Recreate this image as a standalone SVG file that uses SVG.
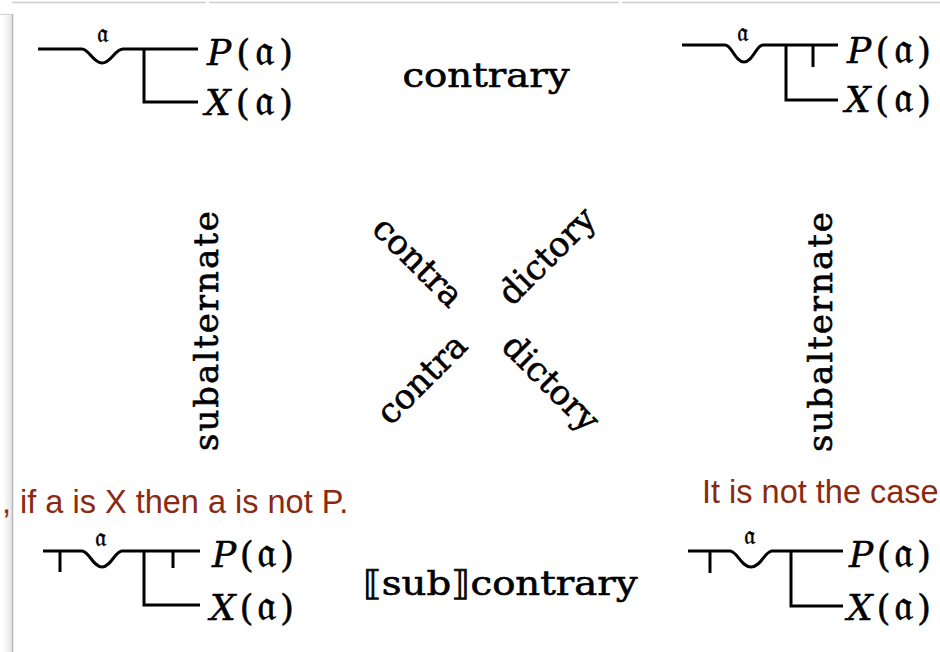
<svg xmlns="http://www.w3.org/2000/svg" width="940" height="652" viewBox="0 0 940 652">
<defs>
<linearGradient id="shadow" x1="0" y1="0" x2="1" y2="0">
<stop offset="0" stop-color="#ffffff"/>
<stop offset="1" stop-color="#e4e4e4"/>
</linearGradient>
<style>
.stroke{fill:none;stroke:#000;stroke-width:3;stroke-linecap:butt;stroke-linejoin:miter}
.formula{font-family:"DejaVu Serif","Liberation Serif",serif;font-size:36px;fill:#000;stroke:#000;stroke-width:0.5}
.it{font-style:italic}
.fr{font-size:44px}
.var{font-family:"DejaVu Serif","Liberation Serif",serif;font-size:26px;fill:#000;stroke:#000;stroke-width:0.4}
.rel{font-family:"DejaVu Serif","Liberation Serif",serif;font-size:34px;fill:#000;stroke:#000;stroke-width:0.6}
.note{font-family:"Liberation Sans",Arial,sans-serif;font-size:32.5px;fill:#8a2a12}
</style>
</defs>
<rect width="940" height="652" fill="#fff"/>
<!-- window frame -->
<rect x="3" y="14" width="9" height="638" fill="url(#shadow)"/>
<line x1="12.5" y1="14" x2="12.5" y2="652" stroke="#b8b8b8" stroke-width="1.5"/>
<line x1="0" y1="14.5" x2="12" y2="14.5" stroke="#d0d0d0" stroke-width="1"/>
<line x1="12" y1="2.5" x2="206" y2="2.5" stroke="#cfcfcf" stroke-width="1.5"/>
<line x1="209" y1="2.5" x2="619" y2="2.5" stroke="#cfcfcf" stroke-width="1.5"/>
<line x1="622" y1="2.5" x2="940" y2="2.5" stroke="#cfcfcf" stroke-width="1.5"/>

<g id="node-top-left">
<path class="stroke" d="M38,49 H82 C89,49 93,63 102,63 C111,63 115,49 123,49 H198 M144,49 V102 H198"/>
<text class="var" x="102" y="42" text-anchor="middle">𝔞</text>
<text class="formula" x="207" y="65" textLength="86" lengthAdjust="spacing"><tspan class="it">P</tspan>(<tspan class="fr">𝔞</tspan>)</text>
<text class="formula" x="205" y="115" textLength="88" lengthAdjust="spacing"><tspan class="it">X</tspan>(<tspan class="fr">𝔞</tspan>)</text>
</g>

<g id="node-top-right">
<path class="stroke" d="M682,45 H725 C732,45 735,62 744,62 C753,62 756,45 763,45 H838 M786,45 V100 H838 M813,45 V67"/>
<text class="var" x="742" y="41" text-anchor="middle">𝔞</text>
<text class="formula" x="847" y="63" textLength="84" lengthAdjust="spacing"><tspan class="it">P</tspan>(<tspan class="fr">𝔞</tspan>)</text>
<text class="formula" x="845" y="112" textLength="86" lengthAdjust="spacing"><tspan class="it">X</tspan>(<tspan class="fr">𝔞</tspan>)</text>
</g>

<g id="node-bottom-left">
<path class="stroke" d="M43,551 H82 C89,551 93,567 102,567 C111,567 115,551 122,551 H200 M144,551 V605 H200 M60,551 V572 M173,551 V568"/>
<text class="var" x="100" y="546" text-anchor="middle">𝔞</text>
<text class="formula" x="212" y="567" textLength="82" lengthAdjust="spacing"><tspan class="it">P</tspan>(<tspan class="fr">𝔞</tspan>)</text>
<text class="formula" x="210" y="620" textLength="84" lengthAdjust="spacing"><tspan class="it">X</tspan>(<tspan class="fr">𝔞</tspan>)</text>
</g>

<g id="node-bottom-right">
<path class="stroke" d="M688,551 H730 C737,551 741,567 751,567 C761,567 765,551 772,551 H843 M791,551 V606 H843 M710,551 V573"/>
<text class="var" x="749" y="544" text-anchor="middle">𝔞</text>
<text class="formula" x="849" y="567" textLength="82" lengthAdjust="spacing"><tspan class="it">P</tspan>(<tspan class="fr">𝔞</tspan>)</text>
<text class="formula" x="847" y="620" textLength="84" lengthAdjust="spacing"><tspan class="it">X</tspan>(<tspan class="fr">𝔞</tspan>)</text>
</g>

<g id="connectors">
<text class="rel" x="486" y="87" text-anchor="middle" textLength="167" lengthAdjust="spacingAndGlyphs">contrary</text>
<text class="rel" x="500" y="595" text-anchor="middle" textLength="275" lengthAdjust="spacingAndGlyphs">⟦sub⟧contrary</text>
<text class="rel" transform="translate(218,331) rotate(-90)" x="0" y="0" text-anchor="middle" textLength="240" lengthAdjust="spacing" font-size="32">subalternate</text>
<text class="rel" transform="translate(832,332) rotate(-90)" x="0" y="0" text-anchor="middle" textLength="240" lengthAdjust="spacing" font-size="32">subalternate</text>
<text class="rel" transform="translate(410,270) rotate(45)" x="0" y="0" text-anchor="middle">contra</text>
<text class="rel" transform="translate(555,264) rotate(-45)" x="0" y="0" text-anchor="middle">dictory</text>
<text class="rel" transform="translate(430,387) rotate(-45)" x="0" y="0" text-anchor="middle">contra</text>
<text class="rel" transform="translate(543,391) rotate(45)" x="0" y="0" text-anchor="middle">dictory</text>
</g>

<g id="notes">
<text class="note" x="2" y="513">, if a is X then a is not P.</text>
<text class="note" x="702" y="503" font-size="30">It is not the case</text>
</g>
</svg>
